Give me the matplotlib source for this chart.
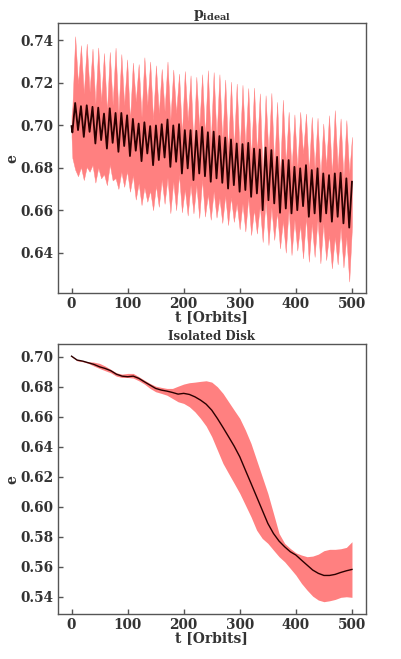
import numpy as np
import matplotlib
matplotlib.use('Agg')
import matplotlib.pyplot as plt

# ── Top panel (p_ideal): mean e at the oscillation extremes, plus spread ──────
t_start = [0.0, 1.5]
e_start = [0.6996, 0.6966]
s_start = [0.0050, 0.0120]

t_peak = [6.5, 16.8, 27.1, 37.4, 47.6, 57.9, 68.2, 78.5, 88.8, 99.1,
          109.4, 119.7, 129.9, 140.2, 150.5, 160.8, 171.1, 181.4, 191.7, 202.0,
          212.2, 222.5, 232.8, 243.1, 253.4, 263.7, 274.0, 284.3, 294.5, 304.8,
          315.1, 325.4, 335.7, 346.0, 356.3, 366.5, 376.8, 387.1, 397.4, 407.7,
          418.0, 428.3, 438.6, 448.8, 459.1, 469.4, 479.7, 490.0]
e_peak = [0.7105, 0.7090, 0.7094, 0.7087, 0.7083, 0.7055, 0.7080, 0.7058, 0.7058, 0.7047,
          0.7030, 0.7008, 0.7014, 0.6996, 0.6999, 0.7005, 0.7027, 0.6999, 0.7005, 0.6977,
          0.6977, 0.6974, 0.6992, 0.6967, 0.6970, 0.6949, 0.6942, 0.6933, 0.6914, 0.6911,
          0.6917, 0.6890, 0.6886, 0.6895, 0.6883, 0.6851, 0.6836, 0.6836, 0.6804, 0.6797,
          0.6812, 0.6789, 0.6797, 0.6773, 0.6765, 0.6773, 0.6776, 0.6750]
s_peak = [0.0314, 0.0287, 0.0290, 0.0274, 0.0283, 0.0285, 0.0265, 0.0307, 0.0277, 0.0263,
          0.0265, 0.0280, 0.0306, 0.0304, 0.0283, 0.0260, 0.0273, 0.0263, 0.0238, 0.0278,
          0.0258, 0.0254, 0.0248, 0.0292, 0.0280, 0.0291, 0.0273, 0.0272, 0.0282, 0.0279,
          0.0258, 0.0287, 0.0264, 0.0246, 0.0269, 0.0259, 0.0284, 0.0227, 0.0247, 0.0266,
          0.0243, 0.0250, 0.0238, 0.0235, 0.0282, 0.0298, 0.0256, 0.0274]

t_trough = [11.6, 21.9, 32.2, 42.5, 52.8, 63.1, 73.3, 83.6, 93.9, 104.2,
            114.5, 124.8, 135.1, 145.4, 155.6, 165.9, 176.2, 186.5, 196.8, 207.1,
            217.4, 227.7, 237.9, 248.2, 258.5, 268.8, 279.1, 289.4, 299.7, 309.9,
            320.2, 330.5, 340.8, 351.1, 361.4, 371.7, 382.0, 392.2, 402.5, 412.8,
            423.1, 433.4, 443.7, 454.0, 464.2, 474.5, 484.8, 495.1]
e_trough = [0.6977, 0.6945, 0.6969, 0.6914, 0.6930, 0.6890, 0.6917, 0.6875, 0.6902, 0.6855,
            0.6880, 0.6831, 0.6867, 0.6812, 0.6836, 0.6848, 0.6804, 0.6828, 0.6773, 0.6797,
            0.6742, 0.6773, 0.6760, 0.6734, 0.6750, 0.6729, 0.6702, 0.6718, 0.6687, 0.6695,
            0.6663, 0.6679, 0.6600, 0.6647, 0.6632, 0.6588, 0.6608, 0.6585, 0.6600, 0.6619,
            0.6569, 0.6585, 0.6546, 0.6585, 0.6546, 0.6569, 0.6538, 0.6518]
s_trough = [0.0217, 0.0203, 0.0188, 0.0184, 0.0180, 0.0172, 0.0177, 0.0175, 0.0192, 0.0168,
            0.0230, 0.0207, 0.0227, 0.0212, 0.0220, 0.0218, 0.0218, 0.0228, 0.0183, 0.0222,
            0.0157, 0.0210, 0.0190, 0.0179, 0.0185, 0.0189, 0.0172, 0.0173, 0.0177, 0.0195,
            0.0180, 0.0189, 0.0150, 0.0211, 0.0172, 0.0168, 0.0208, 0.0196, 0.0190, 0.0246,
            0.0212, 0.0205, 0.0196, 0.0220, 0.0220, 0.0224, 0.0208, 0.0254]

t_end = [500.0]
e_end = [0.6734]
s_end = [0.0211]

# ── Bottom panel (Isolated Disk) ──────────────────────────────────────────────
t_iso = [0, 10, 20, 30, 40, 50, 60, 70, 80, 90, 100, 110, 120, 130, 140, 150,
         160, 170, 180, 190, 200, 210, 220, 230, 240, 250, 260, 270, 280, 290,
         300, 310, 320, 330, 340, 350, 360, 370, 380, 390, 400, 410, 420, 430,
         440, 450, 460, 470, 480, 490, 500]
e_iso = [0.7004, 0.6978, 0.6971, 0.6960, 0.6949, 0.6933, 0.6922, 0.6907, 0.6884, 0.6871,
         0.6867, 0.6871, 0.6856, 0.6833, 0.6811, 0.6789, 0.6778, 0.6771, 0.6762, 0.6751,
         0.6756, 0.6749, 0.6733, 0.6711, 0.6684, 0.6644, 0.6589, 0.6529, 0.6467, 0.6404,
         0.6333, 0.6244, 0.6156, 0.6067, 0.5978, 0.5889, 0.5822, 0.5771, 0.5733, 0.5700,
         0.5678, 0.5644, 0.5611, 0.5578, 0.5556, 0.5542, 0.5542, 0.5549, 0.5562, 0.5573,
         0.5582]
e_iso_hi = [0.7004, 0.6982, 0.6973, 0.6967, 0.6964, 0.6956, 0.6938, 0.6916, 0.6893, 0.6884,
            0.6889, 0.6889, 0.6867, 0.6844, 0.6822, 0.6804, 0.6796, 0.6789, 0.6789, 0.6804,
            0.6818, 0.6827, 0.6831, 0.6836, 0.6840, 0.6831, 0.6800, 0.6756, 0.6700, 0.6644,
            0.6589, 0.6511, 0.6422, 0.6311, 0.6200, 0.6089, 0.5956, 0.5822, 0.5756, 0.5722,
            0.5693, 0.5678, 0.5667, 0.5671, 0.5684, 0.5707, 0.5716, 0.5716, 0.5720, 0.5729,
            0.5767]
e_iso_lo = [0.7000, 0.6973, 0.6967, 0.6956, 0.6938, 0.6922, 0.6907, 0.6893, 0.6871, 0.6862,
            0.6862, 0.6858, 0.6840, 0.6818, 0.6789, 0.6767, 0.6756, 0.6744, 0.6722, 0.6700,
            0.6689, 0.6667, 0.6633, 0.6589, 0.6538, 0.6467, 0.6378, 0.6289, 0.6222, 0.6156,
            0.6089, 0.6011, 0.5933, 0.5844, 0.5789, 0.5756, 0.5711, 0.5667, 0.5633, 0.5589,
            0.5544, 0.5489, 0.5444, 0.5404, 0.5378, 0.5367, 0.5373, 0.5382, 0.5396, 0.5400,
            0.5396]

xticks = [0, 100, 200, 300, 400, 500]

plt.rcParams['font.family'] = 'DejaVu Serif'
plt.rcParams['font.weight'] = 'bold'
plt.rcParams['mathtext.fontset'] = 'dejavuserif'

TXT = '#333333'
SPINE = '#555555'
FILL = '#ff8080'
LINE = '#2a0000'


def _style(ax, yfmt):
    for s in ax.spines.values():
        s.set_color(SPINE)
        s.set_linewidth(1.0)
    ax.tick_params(direction='in', length=3.5, width=1.0, color=SPINE,
                   labelcolor=TXT, labelsize=9.8, top=False, right=False, pad=3)
    ax.set_xticks(xticks)
    ax.set_xlabel('t [Orbits]', fontsize=10, fontweight='bold', color=TXT, labelpad=-1)
    ax.set_ylabel('e', fontsize=10, fontweight='bold', color=TXT, labelpad=0.5)
    ax.yaxis.set_major_formatter(yfmt)


fig = plt.figure(figsize=(4.01, 6.59), dpi=100)

# top panel: interleave peaks and troughs in time order
t_osc, e_osc, s_osc = list(t_start), list(e_start), list(s_start)
for tp, ep, sp, tt, et, st in zip(t_peak, e_peak, s_peak, t_trough, e_trough, s_trough):
    t_osc += [tp, tt]
    e_osc += [ep, et]
    s_osc += [sp, st]
t_osc += t_end
e_osc += e_end
s_osc += s_end
t_osc = np.array(t_osc)
e_osc = np.array(e_osc)
s_osc = np.array(s_osc)

ax1 = fig.add_axes([0.1434, 0.5554, 0.7693, 0.4092])
ax1.fill_between(t_osc, e_osc - s_osc, e_osc + s_osc, color=FILL, lw=0.3, edgecolor=FILL)
ax1.plot(t_osc, e_osc, color=LINE, lw=1.3)
ax1.set_xlim(-25, 525)
ax1.set_ylim(0.621, 0.748)
ax1.set_yticks([0.64, 0.66, 0.68, 0.70, 0.72, 0.74])
ax1.set_title(r'$\mathbf{p_{ideal}}$', fontsize=10, color=TXT, pad=3)
_style(ax1, matplotlib.ticker.FormatStrFormatter('%.2f'))

ax2 = fig.add_axes([0.1434, 0.0683, 0.7693, 0.4092])
ax2.fill_between(t_iso, e_iso_lo, e_iso_hi, color=FILL, lw=0)
ax2.plot(t_iso, e_iso, color=LINE, lw=1.0)
ax2.set_xlim(-25, 525)
ax2.set_ylim(0.5285, 0.7083)
ax2.set_yticks([0.54, 0.56, 0.58, 0.60, 0.62, 0.64, 0.66, 0.68, 0.70])
ax2.set_title('Isolated Disk', fontsize=8.5, fontweight='bold', color=TXT, pad=3)
_style(ax2, matplotlib.ticker.FormatStrFormatter('%.2f'))

fig.savefig('out.png', dpi=100)
